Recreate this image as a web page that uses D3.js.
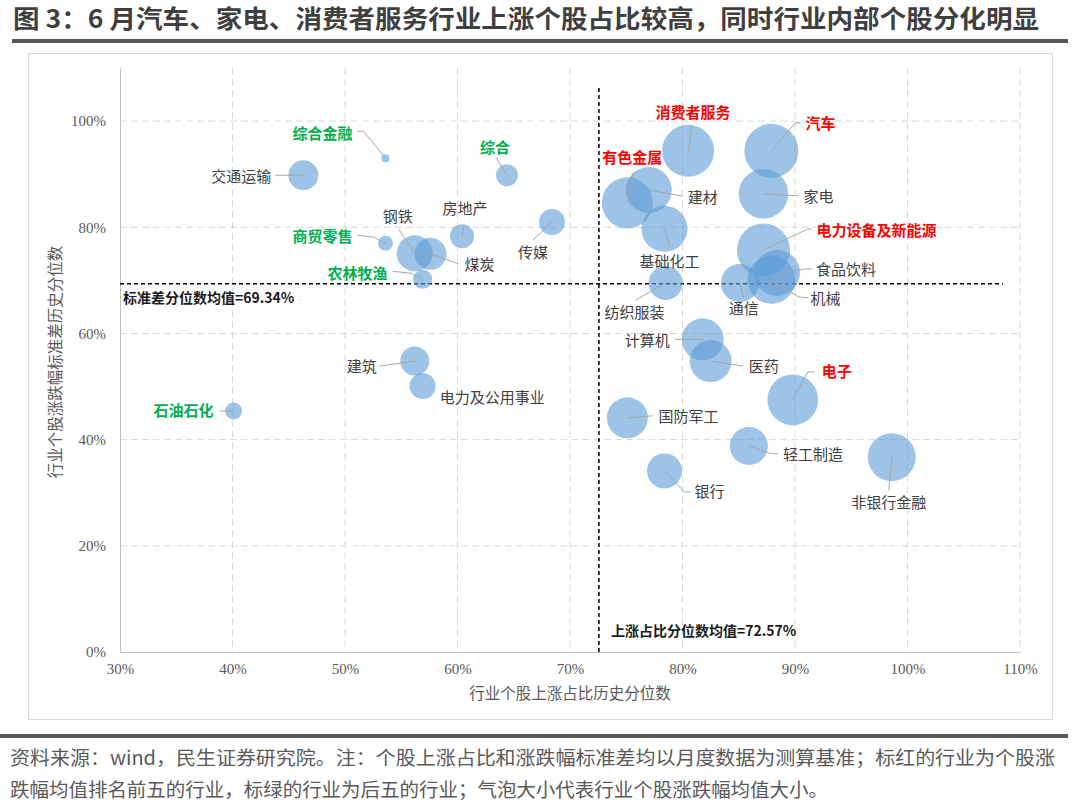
<!DOCTYPE html>
<html>
<head>
<meta charset="utf-8">
<script src="https://cdn.jsdelivr.net/npm/d3@7"></script>
<style>
  body { margin: 0; background: #fff; }
  text { font-family: "Noto Sans CJK SC", "Noto Sans", sans-serif; }
</style>
</head>
<body>
<div id="chart"></div>
<script>
// 行业名称
var industries = ["综合金融", "交通运输", "综合", "传媒", "房地产", "钢铁", "煤炭", "商贸零售", "农林牧渔", "建筑",
  "电力及公用事业", "石油石化", "消费者服务", "汽车", "有色金属", "建材", "基础化工", "家电", "电力设备及新能源", "食品饮料",
  "机械", "通信", "纺织服装", "计算机", "医药", "电子", "国防军工", "轻工制造", "银行", "非银行金融"];
// 行业个股上涨占比历史分位数 (%)
var riseRatio = [53.6, 46.3, 64.4, 68.4, 60.4, 56.2, 57.6, 53.6, 56.9, 56.2,
  56.9, 40.1, 80.5, 87.9, 75.1, 77.0, 78.4, 87.2, 87.2, 88.4,
  87.9, 85.1, 78.5, 81.8, 82.5, 89.8, 75.1, 85.9, 78.4, 98.6];
// 行业个股涨跌幅标准差历史分位数 (%)
var stdRank = [93.0, 89.8, 89.8, 81.0, 78.3, 75.1, 75.0, 77.0, 70.2, 54.8,
  50.1, 45.4, 94.4, 94.4, 84.6, 87.0, 79.7, 86.3, 75.7, 71.4,
  70.1, 69.5, 69.5, 58.9, 54.8, 47.5, 44.1, 38.8, 34.1, 36.7];
// 气泡大小：行业个股涨跌幅均值
var avgChange = [0.26, 3.70, 1.99, 2.78, 2.37, 5.33, 4.21, 0.93, 1.49, 3.46,
  2.78, 1.19, 11.13, 12.0, 10.70, 8.71, 8.71, 10.1, 11.56, 8.71,
  9.48, 5.94, 4.76, 7.26, 7.26, 10.6, 6.92, 5.94, 5.04, 9.48];
var topFive = ["消费者服务", "汽车", "有色金属", "电力设备及新能源", "电子"];
var bottomFive = ["综合金融", "综合", "商贸零售", "农林牧渔", "石油石化"];
var xTicks = [30, 40, 50, 60, 70, 80, 90, 100, 110];
var yTicks = [0, 20, 40, 60, 80, 100];
var meanRise = 72.57;
var meanStd = 69.34;

var data = industries.map(function (name, i) {
  return {name: name, x: riseRatio[i], y: stdRank[i], size: avgChange[i]};
});

// label placement (pixel offsets from bubble centre)
var labelPos = {
  "综合金融": {dx: -33, dy: -25, a: "end", l: [[-22, -27], [-28, -27]]},
  "交通运输": {dx: -32, dy: 1, a: "end", l: [[-28, 0]]},
  "综合": {dx: -12, dy: -28, a: "middle", l: [[-11, -18]]},
  "传媒": {dx: -19, dy: 31, a: "middle", l: [[-19, 18]]},
  "房地产": {dx: 3, dy: -28, a: "middle", l: [[2, -11]]},
  "钢铁": {dx: -17, dy: -37, a: "middle", l: [[-16, -24]]},
  "煤炭": {dx: 34, dy: 11, a: "start", l: [[28, 10]]},
  "商贸零售": {dx: -33, dy: -7, a: "end", l: [[-12, -6], [-28, -8]]},
  "农林牧渔": {dx: -35, dy: -6, a: "end", l: [[-11, -6], [-30, -8]]},
  "建筑": {dx: -38, dy: 6, a: "end", l: [[-35, 5]]},
  "电力及公用事业": {dx: 17, dy: 12, a: "start", l: []},
  "石油石化": {dx: -20, dy: 0, a: "end", l: [[-14, 0]]},
  "消费者服务": {dx: 5, dy: -38, a: "middle", l: [[4, -26]]},
  "汽车": {dx: 34, dy: -27, a: "start", l: [[24, -28], [29, -28]]},
  "有色金属": {dx: 5, dy: -45, a: "middle", l: [[6, -31]]},
  "建材": {dx: 39, dy: 7, a: "start", l: [[34, 6]]},
  "基础化工": {dx: 5, dy: 33, a: "middle", l: [[5, 18]]},
  "家电": {dx: 40, dy: 3, a: "start", l: [[35, 2]]},
  "电力设备及新能源": {dx: 53, dy: -20, a: "start", l: [[44, -21], [48, -21]]},
  "食品饮料": {dx: 39, dy: -3, a: "start", l: [[30, -4], [35, -4]]},
  "机械": {dx: 39, dy: 19, a: "start", l: [[27, 17], [37, 18]]},
  "通信": {dx: 4, dy: 26, a: "middle", l: [[4, 15]]},
  "纺织服装": {dx: -31, dy: 30, a: "middle", l: [[-30, 17]]},
  "计算机": {dx: -33, dy: 1, a: "end", l: [[-28, 0]]},
  "医药": {dx: 38, dy: 6, a: "start", l: [[32, 5]]},
  "电子": {dx: 29, dy: -28, a: "start", l: [[15, -28], [22, -28]]},
  "国防军工": {dx: 31, dy: -1, a: "start", l: [[25, -2]]},
  "轻工制造": {dx: 34, dy: 9, a: "start", l: [[20, 7], [29, 8]]},
  "银行": {dx: 30, dy: 21, a: "start", l: [[20, 21], [26, 21]]},
  "非银行金融": {dx: -3, dy: 45, a: "middle", l: [[-3, 33]]}
};

var W = 1080, H = 809;
var svg = d3.select("#chart").append("svg")
    .attr("width", W)
    .attr("height", H);

svg.append("rect").attr("width", W).attr("height", H).attr("fill", "#fff");

// title
svg.append("text")
    .attr("x", 13).attr("y", 28)
    .attr("textLength", 1026).attr("lengthAdjust", "spacingAndGlyphs")
    .style("font-size", "25px").style("font-weight", 700).attr("fill", "#3f3f3f")
    .text("图 3：6 月汽车、家电、消费者服务行业上涨个股占比较高，同时行业内部个股分化明显");
svg.append("rect").attr("x", 12).attr("y", 39).attr("width", 1056).attr("height", 4).attr("fill", "#595959");

// chart frame
svg.append("rect").attr("x", 28.5).attr("y", 53.5).attr("width", 1024).attr("height", 666)
    .attr("fill", "#fff").attr("stroke", "#d9d9d9");

var x = d3.scaleLinear().domain([30, 110]).range([120, 1020]);
var y = d3.scaleLinear().domain([0, 110]).range([652, 68]);
var r = d3.scaleSqrt().domain([0, 12]).range([0, 27]);

// gridlines
svg.append("g").selectAll("line")
    .data(xTicks.slice(1)).enter().append("line")
    .attr("x1", function (d) { return x(d); }).attr("x2", function (d) { return x(d); })
    .attr("y1", y(110)).attr("y2", y(0))
    .attr("stroke", "#d9d9d9").attr("stroke-dasharray", "7,4");
svg.append("g").selectAll("line")
    .data(yTicks.slice(1)).enter().append("line")
    .attr("x1", x(30)).attr("x2", x(110))
    .attr("y1", function (d) { return y(d); }).attr("y2", function (d) { return y(d); })
    .attr("stroke", "#d9d9d9").attr("stroke-dasharray", "7,4");

// axes
var fmt = function (d) { return d + "%"; };
var gx = svg.append("g").attr("transform", "translate(0," + y(0) + ")")
    .call(d3.axisBottom(x).tickValues(xTicks).tickFormat(fmt).tickSize(0).tickPadding(11));
var gy = svg.append("g").attr("transform", "translate(" + x(30) + ",0)")
    .call(d3.axisLeft(y).tickValues(yTicks).tickFormat(fmt).tickSize(0).tickPadding(14));
[gx, gy].forEach(function (g) {
  g.select(".domain").attr("stroke", "#bfbfbf");
  g.selectAll("text").style("font-family", "'Liberation Serif', 'Times New Roman', serif")
      .style("font-size", "15px").attr("fill", "#595959");
});

// axis titles
svg.append("text").attr("x", 570).attr("y", 699).attr("text-anchor", "middle")
    .style("font-size", "15.5px").attr("fill", "#595959").text("行业个股上涨占比历史分位数");
svg.append("text").attr("transform", "translate(61,362) rotate(-90)").attr("text-anchor", "middle")
    .style("font-size", "15.5px").attr("fill", "#595959").text("行业个股涨跌幅标准差历史分位数");

// mean lines
svg.append("line").attr("x1", x(30)).attr("x2", x(108.5)).attr("y1", y(meanStd)).attr("y2", y(meanStd))
    .attr("stroke", "#000").attr("stroke-width", 1.5).attr("stroke-dasharray", "4,3");
svg.append("line").attr("x1", x(meanRise)).attr("x2", x(meanRise)).attr("y1", y(0)).attr("y2", y(106.5))
    .attr("stroke", "#000").attr("stroke-width", 1.5).attr("stroke-dasharray", "4,3");
svg.append("text").attr("x", x(30) + 3).attr("y", y(meanStd) + 19)
    .style("font-size", "14px").style("font-weight", 700).attr("fill", "#1a1a1a")
    .text("标准差分位数均值=" + meanStd.toFixed(2) + "%");
svg.append("text").attr("x", x(meanRise) + 12).attr("y", y(0) - 16)
    .style("font-size", "14px").style("font-weight", 700).attr("fill", "#1a1a1a")
    .text("上涨占比分位数均值=" + meanRise.toFixed(2) + "%");

// bubbles
svg.append("g").selectAll("circle")
    .data(data).enter().append("circle")
    .attr("cx", function (d) { return x(d.x); })
    .attr("cy", function (d) { return y(d.y); })
    .attr("r", function (d) { return r(d.size); })
    .attr("fill", "#5b9bd5").attr("fill-opacity", 0.6);

// leader lines
svg.append("g").selectAll("polyline")
    .data(data.filter(function (d) { return labelPos[d.name].l.length; })).enter().append("polyline")
    .attr("points", function (d) {
      var cx = x(d.x), cy = y(d.y);
      var pts = [[0, 0]].concat(labelPos[d.name].l);
      return pts.map(function (p) { return (cx + p[0]) + "," + (cy + p[1]); }).join(" ");
    })
    .attr("fill", "none").attr("stroke", "#a6a6a6").attr("stroke-width", 1);

// labels
svg.append("g").selectAll("text")
    .data(data).enter().append("text")
    .attr("x", function (d) { return x(d.x) + labelPos[d.name].dx; })
    .attr("y", function (d) { return y(d.y) + labelPos[d.name].dy; })
    .attr("dy", "0.36em")
    .attr("text-anchor", function (d) { return labelPos[d.name].a; })
    .style("font-size", "15px")
    .style("font-weight", function (d) {
      return (topFive.indexOf(d.name) >= 0 || bottomFive.indexOf(d.name) >= 0) ? 700 : 400;
    })
    .attr("fill", function (d) {
      if (topFive.indexOf(d.name) >= 0) return "#ff0000";
      if (bottomFive.indexOf(d.name) >= 0) return "#00b050";
      return "#404040";
    })
    .text(function (d) { return d.name; });

// footnote
svg.append("rect").attr("x", 0).attr("y", 734).attr("width", 1068).attr("height", 4).attr("fill", "#595959");
var notes = ["资料来源：wind，民生证券研究院。注：个股上涨占比和涨跌幅标准差均以月度数据为测算基准；标红的行业为个股涨",
  "跌幅均值排名前五的行业，标绿的行业为后五的行业；气泡大小代表行业个股涨跌幅均值大小。"];
svg.append("text").attr("x", 10).attr("y", 765)
    .attr("textLength", 1045).attr("lengthAdjust", "spacingAndGlyphs")
    .style("font-size", "19px").attr("fill", "#595959").text(notes[0]);
svg.append("text").attr("x", 10).attr("y", 797)
    .attr("textLength", 818).attr("lengthAdjust", "spacingAndGlyphs")
    .style("font-size", "19px").attr("fill", "#595959").text(notes[1]);
</script>
</body>
</html>
